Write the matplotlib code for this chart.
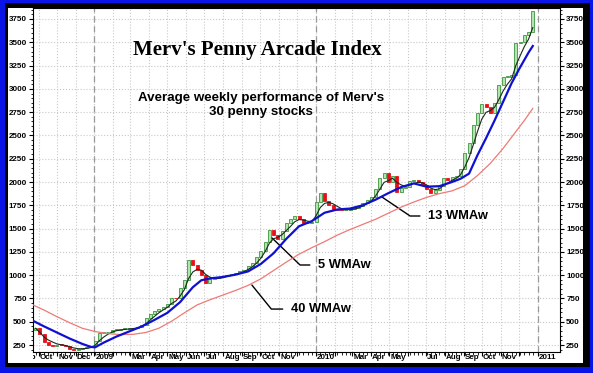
import numpy as np
import pandas as pd
import matplotlib
matplotlib.use("Agg")
import matplotlib.pyplot as plt
from matplotlib.patches import Rectangle
from matplotlib.transforms import Bbox, TransformedBbox

# weekly closes of the index, first week ending 2008-09-26
first_open = 410
closes = [430, 365, 285, 255, 240, 255, 250, 235, 205, 200, 205, 215, 225, 235,
          290, 380, 385, 395, 410, 415, 420, 425, 425, 435, 440, 470, 540, 580,
          610, 640, 660, 690, 760, 750, 860, 950, 1160, 1110, 1050, 1000, 920, 960,
          965, 975, 990, 1000, 1010, 1020, 1040, 1060, 1100, 1130, 1190, 1260, 1360, 1480,
          1430, 1390, 1470, 1560, 1600, 1640, 1600, 1560, 1555, 1570, 1780, 1880, 1800, 1750,
          1710, 1700, 1695, 1700, 1710, 1720, 1745, 1775, 1810, 1840, 1930, 2040, 2100, 2000,
          2060, 1890, 1940, 1950, 2010, 2020, 2000, 1970, 1920, 1880, 1910, 1960, 2040, 2020,
          2050, 2060, 2140, 2310, 2420, 2610, 2740, 2840, 2800, 2740, 2850, 3040, 3130, 3130,
          3150, 3490, 3500, 3580, 3610, 3840]

# 13 and 40 week weighted moving averages (weeks from 2009-01-02)
wma13_weeks = [-14.6, -12, -9, -6, -3, -1, 0, 2, 5, 8, 11, 14, 17, 20, 23, 25, 27, 30, 33, 36,
               39, 42, 45, 48, 51, 54, 57, 60, 63, 66, 69, 72, 75, 78, 81, 84, 86, 88, 90, 92,
               94, 96, 98, 100, 102, 103]
wma13 = [510, 450, 385, 320, 262, 230, 225, 275, 340, 395, 450, 520, 595, 710, 870, 945, 965,
         980, 1005, 1040, 1120, 1235, 1390, 1525, 1580, 1670, 1705, 1715, 1750, 1810, 1880,
         1945, 1985, 1950, 1955, 2000, 2035, 2090, 2290, 2470, 2660, 2860, 3060, 3230, 3390, 3460]
wma40_weeks = [-14.6, -12, -9, -6, -3, 0, 3, 6, 9, 12, 15, 18, 21, 24, 27, 30, 33, 36, 39, 42,
               45, 48, 51, 54, 57, 60, 63, 66, 69, 72, 75, 78, 81, 84, 87, 90, 93, 96, 99, 101, 103]
wma40 = [680, 625, 555, 490, 430, 395, 372, 362, 365, 385, 430, 505, 595, 680, 735, 785, 835,
         890, 960, 1050, 1140, 1225, 1295, 1360, 1430, 1490, 1545, 1600, 1665, 1730, 1785, 1835,
         1875, 1905, 1960, 2070, 2200, 2360, 2540, 2660, 2790]

month_labels = ["Sep", "Oct", "Nov", "Dec", "2009", "", "Mar", "Apr", "May", "Jun", "Jul", "Aug",
                "Sep", "Oct", "Nov", "", "2010", "", "Mar", "Apr", "May", "", "Jul", "Aug",
                "Sep", "Oct", "Nov", "", "2011"]

dates = pd.date_range("2008-09-26", periods=len(closes), freq="7D")
base = pd.Timestamp("2009-01-02")
opens = [first_open] + closes[:-1]
c = np.array(closes, dtype=float)
o = np.array(opens, dtype=float)

# 5 week weighted moving average
wma5 = []
for i in range(len(c)):
    win = c[max(0, i - 4):i + 1]
    wts = np.arange(1, len(win) + 1)
    wma5.append((win * wts).sum() / wts.sum())


def wk(w):
    return base + pd.to_timedelta(np.asarray(w, dtype=float) * 7, unit="D")


W, H = 593, 373
fig = plt.figure(figsize=(W / 100, H / 100), dpi=100)
fig.patch.set_facecolor("#0a14e6")


def px_rect(x0, y0, x1, y1, color):
    fig.add_artist(Rectangle((x0 / W, 1 - y1 / H), (x1 - x0) / W, (y1 - y0) / H,
                             transform=fig.transFigure, facecolor=color, edgecolor="none", zorder=-10))


px_rect(5, 3, 590, 367, "black")
px_rect(8, 8, 583, 363, "white")

ax = fig.add_axes([33 / W, 1 - 352 / H, 527 / W, 344 / H])
ax.set_facecolor("white")

# candles
up = c >= o
bottoms = np.minimum(o, c)
heights = np.maximum(np.abs(c - o), 10)
ax.bar(dates[up], heights[up], bottom=bottoms[up], width=5, color="#b2e4b0",
       edgecolor="#3c963c", linewidth=0.6, zorder=3)
ax.bar(dates[~up], heights[~up], bottom=bottoms[~up], width=5, color="#e8101a",
       edgecolor="#e8101a", linewidth=0.6, zorder=3)

ax.plot(dates, wma5, color="#1a2a1a", lw=0.8, zorder=4)
ax.plot(wk(wma40_weeks), wma40, color="#ee7a76", lw=0.9, zorder=4)
ax.plot(wk(wma13_weeks), wma13, color="#1010d0", lw=1.6, zorder=5)

months = pd.date_range("2008-09-01", "2011-01-01", freq="MS")
ax.set_xticks(months)
ax.set_xticklabels([])
ax.set_xticks(dates, minor=True)
ax.tick_params(axis="x", which="major", length=3, direction="out", width=0.8)
ax.tick_params(axis="x", which="minor", length=2, direction="out", width=0.6)

ax.set_yticks(np.arange(250, 3751, 250))
ax.set_yticks(np.arange(200, 3851, 50), minor=True)
ax.tick_params(axis="y", which="both", left=True, right=True, labelleft=True, labelright=True,
               direction="out", labelsize=6, pad=1.5)
ax.tick_params(axis="y", which="major", length=3, width=0.8)
ax.tick_params(axis="y", which="minor", length=1.5, width=0.6)
for lab in ax.get_yticklabels():
    lab.set_fontfamily("Liberation Sans")
    lab.set_fontweight("bold")
    lab.set_fontsize(5.8)

ax.set_xlim(wk(-14.6), wk(109.4))
ax.set_ylim(175, 3868)

ax.grid(True, which="major", color="#c8c8c8", linestyle=":", linewidth=0.8, zorder=0)
ax.set_axisbelow(True)
for yr in ["2009-01-01", "2010-01-01", "2011-01-01"]:
    ax.axvline(pd.Timestamp(yr), color="#999999", linestyle=(0, (5, 3)), lw=0.9, zorder=1)

for sp in ax.spines.values():
    sp.set_color("black")
    sp.set_linewidth(0.8)

clip = TransformedBbox(Bbox.from_extents(0, -0.2, 1, 1), ax.transAxes)
for m, lab in zip(months, month_labels):
    if not lab:
        continue
    t = ax.text(m + pd.Timedelta(days=2), -0.015, lab, transform=ax.get_xaxis_transform(),
                ha="left", va="center", fontsize=5.8, fontweight="bold",
                family="Liberation Sans", clip_on=True)
    t.set_clip_box(clip)

ax.text(0.425, 0.878, "Merv's Penny Arcade Index", transform=ax.transAxes, ha="center",
        va="center", fontsize=15, fontweight="bold", family="Liberation Serif")
ax.text(0.433, 0.718, "Average weekly performance of Merv's\n30 penny stocks",
        transform=ax.transAxes, ha="center", va="center", fontsize=9.6, fontweight="bold",
        family="Liberation Sans", linespacing=1.15)

notes = [("5 WMAw", 41.65, 1399, 52.5, 1109, -44),
         ("13 WMAw", 67.5, 1839, 78.4, 1635, -34),
         ("40 WMAw", 36.9, 894, 46.1, 636, -51)]
for label, xw, yv, tw, tv, ang in notes:
    ax.annotate(label, xy=(wk(xw), yv), xytext=(wk(tw), tv), ha="left", va="center",
                fontsize=9.3, fontweight="bold", family="Liberation Sans",
                arrowprops=dict(arrowstyle="-", color="black", lw=1.0, shrinkA=4, shrinkB=0,
                                relpos=(0, 0.5),
                                connectionstyle=f"angle,angleA=180,angleB={ang},rad=0"))

fig.savefig("out.png", dpi=100)
